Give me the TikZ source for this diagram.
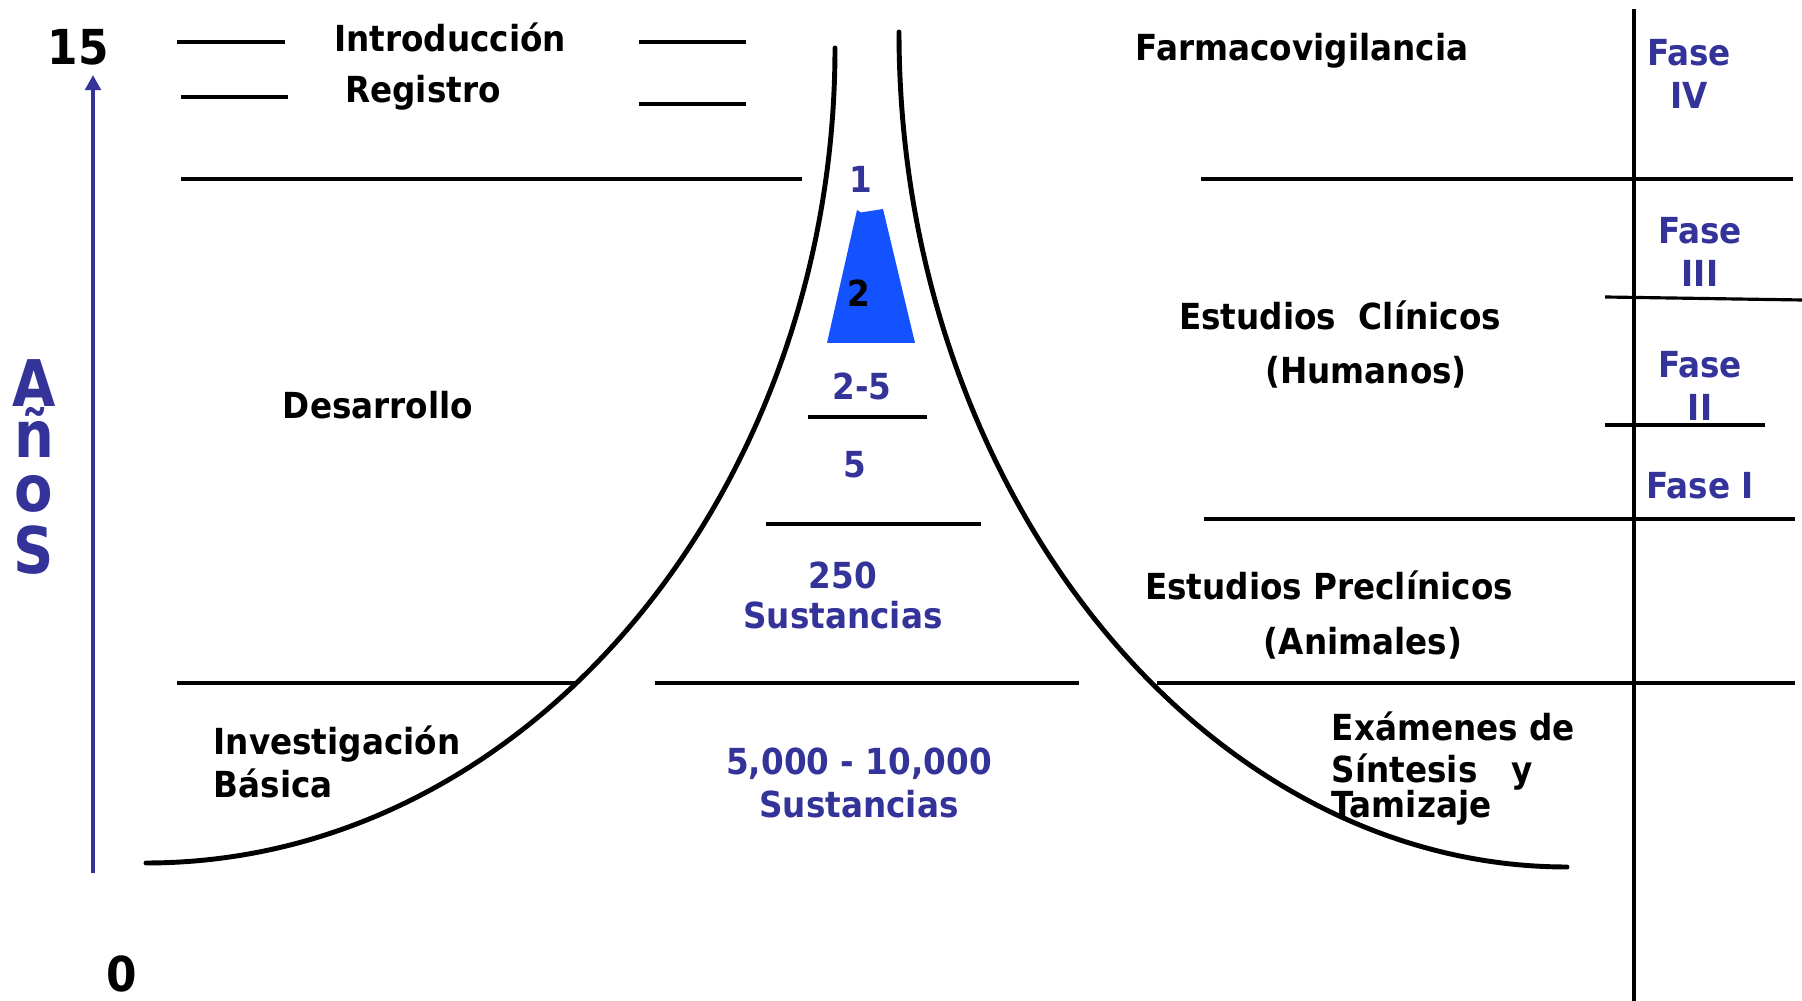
\documentclass[tikz,border=0pt]{standalone}
\usepackage{fontspec}
\usetikzlibrary{arrows.meta}
\newfontfamily\tahfont{DejaVu Sans}[FakeStretch=0.91]
\newfontfamily\anosfont{DejaVu Sans}[FakeStretch=0.87]
\definecolor{faseblue}{RGB}{51,51,153}
\definecolor{funnelblue}{RGB}{20,82,255}

\begin{document}
\begin{tikzpicture}[
  x=0.01cm,y=-0.01cm,
  etapa/.style={font=\tahfont\fontsize{10.2}{12.4}\selectfont\bfseries,text=black,inner sep=0pt,anchor=base},
  cifra/.style={etapa,text=faseblue},
  fase/.style={etapa,text=faseblue,align=center},
  anio/.style={etapa,font=\tahfont\fontsize{13.7}{16}\selectfont\bfseries},
  anos/.style={etapa,text=faseblue,font=\anosfont\fontsize{18.3}{20}\selectfont\bfseries},
  grueso/.style={line width=1.4pt},
  fino/.style={line width=0.9pt},
  embudo/.style={line width=1.4pt,line cap=round},
  flecha/.style={-{Triangle[length=4.3pt,width=4.4pt]},faseblue,line width=1.3pt}
]
\useasboundingbox (0,0) rectangle (1802,1001);
% escala de tiempo
\node[anio] (a15) at (78,65) {15};
\node[anio] (a0) at (122,992) {0};
\coordinate (t0) at (93,873);
\coordinate (t15) at (93,75);
\draw[flecha] (t0) -- (t15);
\foreach \l/\y [count=\i] in {A/407,ñ/458,o/512,S/574}
  \node[anos] (anos\i) at (34,\y) {\l};
% separadores
\draw[grueso] (177,42) -- (285,42);
\draw[grueso] (181,97) -- (288,97);
\draw[grueso] (639,42) -- (746,42);
\draw[grueso] (639,104) -- (746,104);
\draw[grueso] (181,179) -- (802,179);
\draw[grueso] (1201,179) -- (1793,179);
\draw[grueso] (1204,519) -- (1795,519);
\draw[grueso] (177,683) -- (575,683);
\draw[grueso] (655,683) -- (1079,683);
\draw[grueso] (1157,683) -- (1795,683);
\draw[grueso] (1634,9) -- (1634,1001);
\draw[fino] (808,417) -- (927,417);
\draw[fino] (766,524) -- (981,524);
\draw[fino] (1605,297) -- (1802,300);
\draw[fino] (1605,425) -- (1765,425);
% embudo
\draw[embudo] (835,48) .. controls (835,488) and (531,863) .. (146,863);
\draw[embudo] (899,32) .. controls (899,489) and (1202,867) .. (1567,867);
\fill[funnelblue] (827,343) -- (857,210) -- (861,212.5) -- (883,209) -- (915,343) -- cycle;
% etapas
\node[etapa] (intro) at (450,52) {Introducción};
\node[etapa] (registro) at (423,103) {Registro};
\node[etapa] (farmaco) at (1302,61) {Farmacovigilancia};
\node[etapa] (desarrollo) at (378,419) {Desarrollo};
\node[etapa] (clinicos) at (1340,330) {Estudios\ \ Clínicos};
\node[etapa] (humanos) at (1366,384) {(Humanos)};
\node[etapa] (preclin) at (1329,600) {Estudios Preclínicos};
\node[etapa] (animales) at (1363,655) {(Animales)};
\node[etapa,anchor=base west,align=left] (examenes) at (1331,818)
  {Exámenes de\\[-0.6pt]Síntesis\ \ \ y\\[-2.3pt]Tamizaje};
\node[etapa,anchor=base west,align=left] (investig) at (213,798) {Investigación\\Básica};
% cifras
\node[cifra] (uno) at (861,193) {1};
\node[etapa] (dos) at (859,307) {2};
\node[cifra] (dosacinco) at (862,400) {2-5};
\node[cifra] (cinco) at (855,478) {5};
\node[fase] (c250) at (843,629) {250\\[-0.9pt]Sustancias};
\node[fase] (c5000) at (859,818) {5,000 - 10,000\\Sustancias};
% fases
\node[fase] (faseIV) at (1689,109) {Fase\\IV};
\node[fase] (faseIII) at (1700,287) {Fase\\III};
\node[fase] (faseII) at (1700,421) {Fase\\II};
\node[fase] (faseI) at (1700,499) {Fase I};
\end{tikzpicture}
\end{document}
